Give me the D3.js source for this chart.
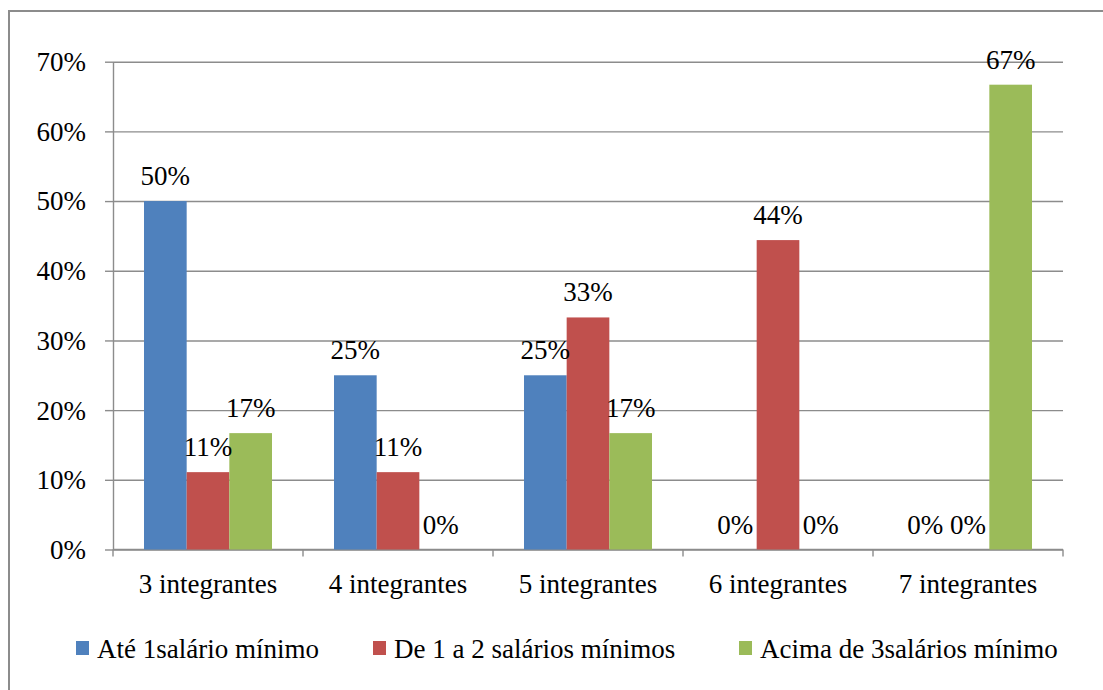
<!DOCTYPE html>
<html>
<head>
<meta charset="utf-8">
<script src="https://cdn.jsdelivr.net/npm/d3@7"></script>
<style>
  body { margin: 0; background: #fff; }
  svg { display: block; }
</style>
</head>
<body>
<main></main>
<script>
// data
const categories = ['3 integrantes', '4 integrantes', '5 integrantes', '6 integrantes', '7 integrantes'];
const seriesNames = ['Até 1salário mínimo', 'De 1 a 2 salários mínimos', 'Acima de 3salários mínimo'];
const ate1 = [0.5, 0.25, 0.25, 0, 0];
const de1a2 = [0.111, 0.111, 0.333, 0.444, 0];
const acima3 = [0.167, 0, 0.167, 0, 0.667];
const yTicks = [0, 0.1, 0.2, 0.3, 0.4, 0.5, 0.6, 0.7];

const colors = ['#4f81bd', '#c0504d', '#9bbb59'];
const gridColor = '#8c8c8c';
const fontFamily = 'Liberation Serif';

// dimensions
const width = 1103;
const height = 690;
const plotLeft = 113;
const plotRight = 1063;
const plotTop = 61.7;
const plotBottom = 549.5;
const fontSize = 27;

const svg = d3.select('main')
  .append('svg')
  .attr('width', width)
  .attr('height', height)
  .attr('font-family', fontFamily)
  .attr('font-size', fontSize);

// outer border (runs off the right and bottom edge)
svg.append('rect')
  .attr('x', 9)
  .attr('y', 11)
  .attr('width', width + 10)
  .attr('height', height + 10)
  .attr('fill', 'none')
  .attr('stroke', gridColor)
  .attr('stroke-width', 2);

// scales
const x0 = d3.scaleBand()
  .domain(categories)
  .range([plotLeft, plotRight]);

const x1 = d3.scaleBand()
  .domain(seriesNames)
  .range([31, x0.bandwidth() - 31]);

const y = d3.scaleLinear()
  .domain([0, 0.7])
  .range([plotBottom, plotTop]);

// gridlines
svg.append('g')
  .attr('transform', `translate(${plotLeft}, 0)`)
  .call(d3.axisLeft(y).tickValues(yTicks).tickSize(-(plotRight - plotLeft)).tickFormat(''))
  .call(g => g.select('.domain').remove())
  .call(g => g.selectAll('line').attr('stroke', gridColor).attr('stroke-width', 1.4));

// y axis
svg.append('g')
  .attr('transform', `translate(${plotLeft}, 0)`)
  .call(d3.axisLeft(y).tickValues(yTicks).tickSize(8).tickPadding(19).tickSizeOuter(0).tickFormat(d3.format('.0%')))
  .attr('font-family', fontFamily)
  .attr('font-size', fontSize)
  .call(g => g.select('.domain').attr('stroke', gridColor).attr('stroke-width', 1.4))
  .call(g => g.selectAll('line').attr('stroke', gridColor).attr('stroke-width', 1.4))
  .call(g => g.selectAll('text')
    .attr('font-family', fontFamily)
    .attr('font-size', fontSize)
    .attr('fill', '#000')
    .attr('dy', '0.33em'));

// x axis line and boundary ticks
svg.append('line')
  .attr('x1', plotLeft).attr('x2', plotRight)
  .attr('y1', y(0)).attr('y2', y(0))
  .attr('stroke', gridColor)
  .attr('stroke-width', 1.4);

const boundaries = categories.map(c => x0(c)).concat([x0(categories[categories.length - 1]) + x0.bandwidth()]);
svg.selectAll('.xtick')
  .data(boundaries)
  .enter()
  .append('line')
  .attr('x1', d => d).attr('x2', d => d)
  .attr('y1', y(0)).attr('y2', y(0) + 7)
  .attr('stroke', gridColor)
  .attr('stroke-width', 1.4);

svg.append('g')
  .attr('transform', `translate(0, ${y(0)})`)
  .call(d3.axisBottom(x0).tickSize(0).tickPadding(24))
  .attr('font-family', fontFamily)
  .attr('font-size', fontSize)
  .call(g => g.select('.domain').remove())
  .call(g => g.selectAll('text')
    .attr('font-family', fontFamily)
    .attr('font-size', fontSize)
    .attr('fill', '#000'));

// bars
const series = [ate1, de1a2, acima3];
const rows = [];
series.forEach((values, s) => {
  values.forEach((v, i) => rows.push({ cat: categories[i], name: seriesNames[s], s, v }));
});

const groups = svg.append('g');
groups.selectAll('rect')
  .data(rows)
  .enter()
  .append('rect')
  .attr('x', d => x0(d.cat) + x1(d.name))
  .attr('y', d => y(d.v))
  .attr('width', x1.bandwidth())
  .attr('height', d => y(0) - y(d.v))
  .attr('fill', d => colors[d.s]);

// data labels
groups.selectAll('text')
  .data(rows)
  .enter()
  .append('text')
  .attr('x', d => x0(d.cat) + x1(d.name) + x1.bandwidth() / 2)
  .attr('y', d => y(d.v) - 16)
  .attr('text-anchor', 'middle')
  .attr('font-family', fontFamily)
  .attr('font-size', fontSize)
  .attr('fill', '#000')
  .text(d => d3.format('.0%')(d.v));

// legend
const legendX = [76, 373, 739];
const legend = svg.selectAll('.legend')
  .data(seriesNames)
  .enter()
  .append('g')
  .attr('transform', (d, i) => `translate(${legendX[i]}, 641)`);

legend.append('rect')
  .attr('width', 13)
  .attr('height', 14)
  .attr('fill', (d, i) => colors[i]);

legend.append('text')
  .attr('x', 21)
  .attr('y', 17)
  .attr('font-family', fontFamily)
  .attr('font-size', fontSize)
  .attr('fill', '#000')
  .text(d => d);
</script>
</body>
</html>
